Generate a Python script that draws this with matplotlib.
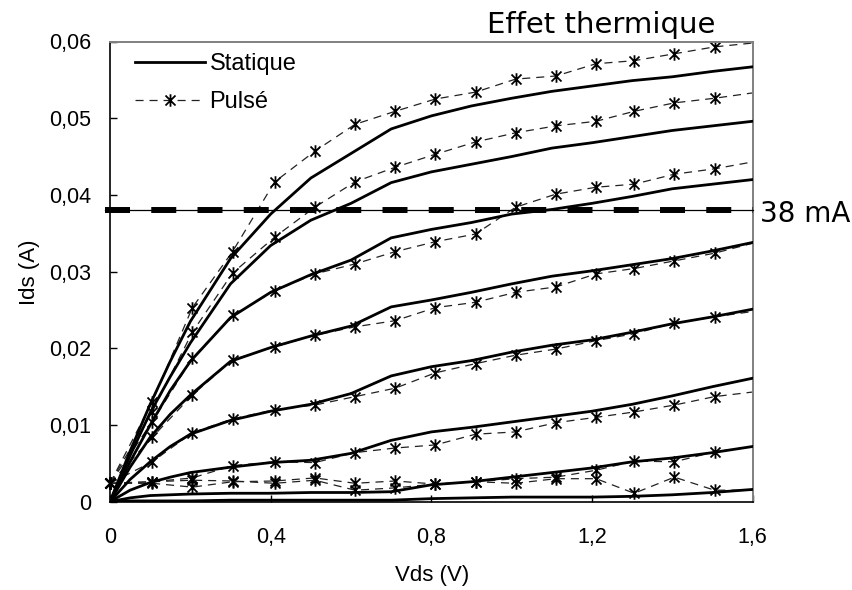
import matplotlib
matplotlib.use('Agg')
import matplotlib.pyplot as plt
from matplotlib.path import Path
from matplotlib.lines import Line2D

plt.rcParams['font.family'] = ['Liberation Sans', 'DejaVu Sans']
plt.rcParams['lines.scale_dashes'] = False

# ---------------- data ----------------
x_static = [0, 0.05, 0.1, 0.15, 0.2, 0.3, 0.4, 0.5, 0.6, 0.7, 0.8, 0.9, 1.0,
            1.1, 1.2, 1.3, 1.4, 1.5, 1.6]
static_1 = [0, 0.0066, 0.0127, 0.0183, 0.0235, 0.0317, 0.0375, 0.0422, 0.0454, 0.0486,
            0.0503, 0.0516, 0.0526, 0.0535, 0.0542, 0.0549, 0.0554, 0.0561, 0.0567]
static_2 = [0, 0.0060, 0.0116, 0.0163, 0.0207, 0.0284, 0.0334, 0.0367, 0.0389, 0.0416,
            0.0430, 0.0440, 0.0450, 0.0461, 0.0468, 0.0476, 0.0484, 0.0490, 0.0496]
static_3 = [0, 0.0052, 0.0100, 0.0145, 0.0183, 0.0240, 0.0273, 0.0296, 0.0315, 0.0344,
            0.0355, 0.0364, 0.0375, 0.0381, 0.0389, 0.0398, 0.0408, 0.0414, 0.0420]
static_4 = [0, 0.0045, 0.0084, 0.0114, 0.0139, 0.0183, 0.0201, 0.0216, 0.0229, 0.0254,
            0.0263, 0.0273, 0.0284, 0.0294, 0.0301, 0.0309, 0.0317, 0.0327, 0.0338]
static_5 = [0, 0.0029, 0.0052, 0.0072, 0.0088, 0.0106, 0.0118, 0.0127, 0.0141, 0.0164,
            0.0176, 0.0184, 0.0195, 0.0204, 0.0211, 0.0221, 0.0232, 0.0241, 0.0251]
static_6 = [0, 0.0015, 0.0025, 0.0032, 0.0038, 0.0045, 0.0051, 0.0054, 0.0063, 0.0080,
            0.0091, 0.0097, 0.0104, 0.0111, 0.0118, 0.0127, 0.0138, 0.0150, 0.0161]
static_7 = [0, 0.0005, 0.0008, 0.0009, 0.0010, 0.0011, 0.0011, 0.0012, 0.0012, 0.0013,
            0.0022, 0.0026, 0.0032, 0.0038, 0.0044, 0.0052, 0.0057, 0.0064, 0.0072]
static_8 = [0, 0.0001, 0.0001, 0.0001, 0.0001, 0.0002, 0.0002, 0.0002, 0.0002, 0.0002,
            0.0004, 0.0005, 0.0006, 0.0006, 0.0006, 0.0007, 0.0009, 0.0012, 0.0016]

x_pulse = [0, 0.105, 0.205, 0.305, 0.41, 0.51, 0.61, 0.71, 0.81, 0.91, 1.01, 1.11,
           1.21, 1.305, 1.405, 1.505, 1.6]
pulse_1 = [0.0024, 0.0130, 0.0253, 0.0326, 0.0417, 0.0457, 0.0492, 0.0509, 0.0525,
           0.0534, 0.0551, 0.0555, 0.0571, 0.0575, 0.0584, 0.0593, 0.0598]
pulse_2 = [0.0024, 0.0117, 0.0221, 0.0298, 0.0345, 0.0384, 0.0417, 0.0436, 0.0453,
           0.0469, 0.0481, 0.0490, 0.0496, 0.0509, 0.0520, 0.0526, 0.0533]
pulse_3 = [0.0024, 0.0104, 0.0187, 0.0243, 0.0275, 0.0297, 0.0310, 0.0326, 0.0339,
           0.0349, 0.0384, 0.0401, 0.0410, 0.0414, 0.0427, 0.0434, 0.0443]
pulse_4 = [0.0024, 0.0084, 0.0139, 0.0185, 0.0202, 0.0217, 0.0228, 0.0236, 0.0253,
           0.0260, 0.0273, 0.0280, 0.0297, 0.0304, 0.0314, 0.0324, 0.0337]
pulse_5 = [0.0024, 0.0052, 0.0090, 0.0108, 0.0120, 0.0126, 0.0137, 0.0148, 0.0168,
           0.0180, 0.0191, 0.0199, 0.0210, 0.0219, 0.0233, 0.0241, 0.0248]
pulse_6 = [0.0024, 0.0026, 0.0031, 0.0047, 0.0052, 0.0051, 0.0064, 0.0070, 0.0074,
           0.0088, 0.0091, 0.0103, 0.0110, 0.0117, 0.0126, 0.0137, 0.0143]
pulse_7 = [0.0024, 0.0024, 0.0019, 0.0026, 0.0027, 0.0031, 0.0024, 0.0027, 0.0023,
           0.0026, 0.0030, 0.0032, 0.0041, 0.0053, 0.0052, 0.0065, 0.0072]
pulse_8 = [0.0024, 0.0026, 0.0028, 0.0027, 0.0024, 0.0028, 0.0015, 0.0018, 0.0023,
           0.0026, 0.0024, 0.0030, 0.0030, 0.0011, 0.0032, 0.0015, 0.0015]

thermal_limit = 0.038
x_ticks = [0, 0.4, 0.8, 1.2, 1.6]
x_tick_labels = ['0', '0,4', '0,8', '1,2', '1,6']
y_ticks = [0, 0.01, 0.02, 0.03, 0.04, 0.05, 0.06]
y_tick_labels = ['0', '0,01', '0,02', '0,03', '0,04', '0,05', '0,06']

static_series = [static_1, static_2, static_3, static_4, static_5, static_6, static_7, static_8]
pulse_series = [pulse_1, pulse_2, pulse_3, pulse_4, pulse_5, pulse_6, pulse_7, pulse_8]

# ---------------- figure ----------------
W, H = 853, 590
fig = plt.figure(figsize=(W / 100, H / 100), dpi=100)
ax = fig.add_axes([110 / W, (H - 501.7) / H, 642.7 / W, 460.2 / H])

ast = Path([(0, -1), (0, 1), (-0.8, -0.8), (0.8, 0.8), (-0.8, 0.8), (0.8, -0.8)],
           [Path.MOVETO, Path.LINETO] * 3)

for ys in static_series:
    ax.plot(x_static, ys, color='black', lw=2.0, solid_joinstyle='round', zorder=3)

for ys in pulse_series:
    ax.plot(x_pulse, ys, color='#222222', lw=0.9, dashes=(5.8, 4.3),
            marker=ast, ms=9, mew=1.3, mec='black',
            markevery=list(range(len(x_pulse) - 1)), zorder=2, clip_on=False)

# thermal limit line (thin line + thick dashes)
ax.plot([-0.0125, 1.6], [thermal_limit, thermal_limit], color='black', lw=0.9,
        clip_on=False, zorder=5)
ax.plot([-0.0125, 1.6], [thermal_limit, thermal_limit], color='black', lw=4.3,
        dashes=(18, 15.3), dash_capstyle='butt', clip_on=False, zorder=6)

ax.set_xlim(0, 1.6)
ax.set_ylim(0, 0.06)
ax.set_xticks(x_ticks)
ax.set_xticklabels(x_tick_labels)
ax.set_yticks(y_ticks)
ax.set_yticklabels(y_tick_labels)
ax.tick_params(direction='in', length=5, width=1, labelsize=15.5, colors='black')
ax.tick_params(axis='x', pad=18)
ax.tick_params(axis='y', pad=13.5)
for s in ['left', 'bottom']:
    ax.spines[s].set_color('black')
    ax.spines[s].set_linewidth(1.2)
for s in ['top', 'right']:
    ax.spines[s].set_color('#808080')
    ax.spines[s].set_linewidth(1.4)

h_static = Line2D([], [], color='black', lw=2.0)
h_pulse = Line2D([], [], color='#222222', lw=0.9, dashes=(5.8, 4.3),
                 marker=ast, ms=9, mew=1.3, mec='black')
ax.legend([h_static, h_pulse], ['Statique', 'Pulsé'], loc='upper left',
          bbox_to_anchor=(0.039, 0.974), frameon=False, fontsize=17,
          handlelength=2.95, handletextpad=0.2, borderpad=0, borderaxespad=0,
          labelspacing=0.65, numpoints=1)

fig.text(487 / W, 1 - 33 / H, 'Effet thermique', fontsize=21, family='DejaVu Sans',
         ha='left', va='baseline')
fig.text(760 / W, 1 - 214 / H, '38 mA', fontsize=20, family='DejaVu Sans',
         ha='left', va='center')
fig.text(30 / W, 1 - 272 / H, 'Ids (A)', rotation=90, ha='center', va='center', fontsize=16)
fig.text(432 / W, 1 - 576 / H, 'Vds (V)', ha='center', va='center', fontsize=16)

fig.savefig('out.png', dpi=100)
